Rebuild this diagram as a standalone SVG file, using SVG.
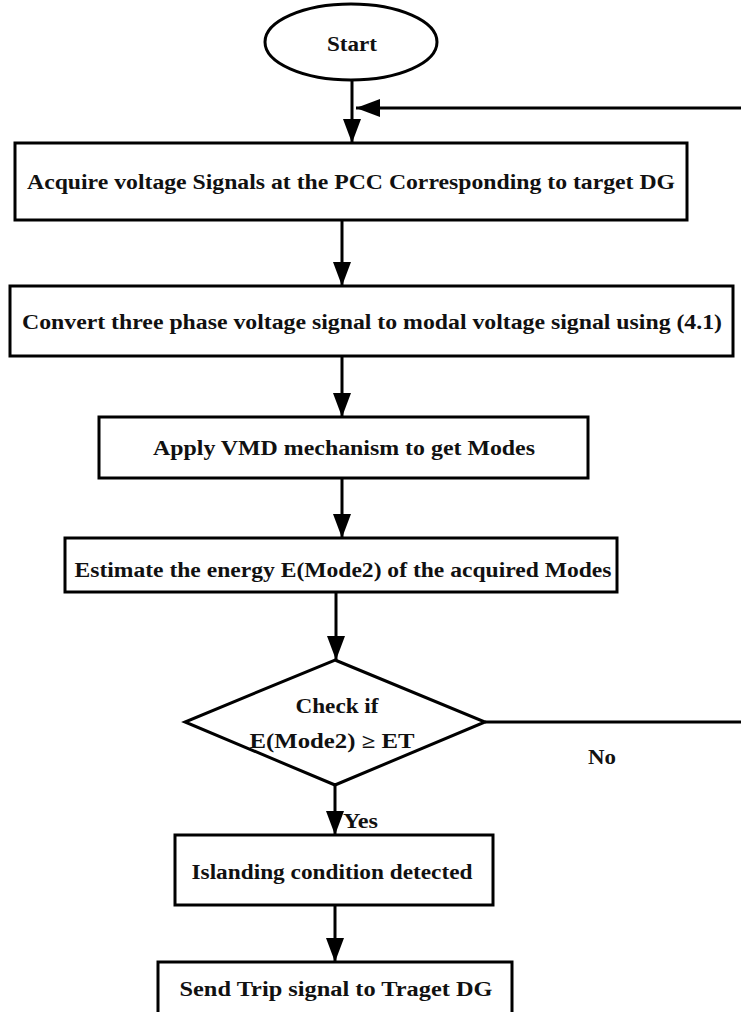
<svg xmlns="http://www.w3.org/2000/svg" width="741" height="1012" viewBox="0 0 741 1012">
<style>
.shape{fill:#fff;stroke:#000;stroke-width:3}
.conn{fill:none;stroke:#000;stroke-width:3}
text{font-family:"Liberation Serif","Times New Roman",serif;font-weight:bold;font-size:20px;fill:#111;text-anchor:middle}
.lbl{text-anchor:start}
</style>
<defs>
<marker id="ah" markerUnits="userSpaceOnUse" markerWidth="24" markerHeight="18" viewBox="0 0 24 18" refX="24" refY="9" orient="auto">
<path d="M0,0 L24,9 L0,18 z" fill="#000"/>
</marker>
</defs>
<rect width="741" height="1012" fill="#fff"/>
<g id="connectors">
<line class="conn" x1="352" y1="80" x2="352" y2="143" marker-end="url(#ah)"/>
<path class="conn" d="M485,722 H745 V108 H356" marker-end="url(#ah)"/>
<line class="conn" x1="342" y1="220" x2="342" y2="286" marker-end="url(#ah)"/>
<line class="conn" x1="342" y1="356" x2="342" y2="417" marker-end="url(#ah)"/>
<line class="conn" x1="342" y1="478" x2="342" y2="538" marker-end="url(#ah)"/>
<line class="conn" x1="336" y1="592" x2="336" y2="660" marker-end="url(#ah)"/>
<line class="conn" x1="335" y1="785" x2="335" y2="835" marker-end="url(#ah)"/>
<line class="conn" x1="335" y1="905" x2="335" y2="962" marker-end="url(#ah)"/>
<text class="lbl" x="588" y="764" textLength="28" lengthAdjust="spacingAndGlyphs">No</text>
<text class="lbl" x="343" y="828" textLength="35" lengthAdjust="spacingAndGlyphs">Yes</text>
</g>
<g id="start">
<ellipse class="shape" cx="351" cy="42" rx="86" ry="38"/>
<text x="352" y="51" textLength="50" lengthAdjust="spacingAndGlyphs">Start</text>
</g>
<g id="acquire">
<rect class="shape" x="15" y="143" width="672" height="77"/>
<text x="351" y="189" textLength="648" lengthAdjust="spacingAndGlyphs">Acquire voltage Signals at the PCC Corresponding to target DG</text>
</g>
<g id="convert">
<rect class="shape" x="10" y="286" width="723" height="70"/>
<text x="372" y="329" textLength="700" lengthAdjust="spacingAndGlyphs">Convert three phase voltage signal to modal voltage signal using (4.1)</text>
</g>
<g id="vmd">
<rect class="shape" x="99" y="417" width="489" height="61"/>
<text x="344" y="455" textLength="382" lengthAdjust="spacingAndGlyphs">Apply VMD mechanism to get Modes</text>
</g>
<g id="estimate">
<rect class="shape" x="65" y="538" width="552" height="54"/>
<text x="343" y="577" textLength="537" lengthAdjust="spacingAndGlyphs">Estimate the energy E(Mode2) of the acquired Modes</text>
</g>
<g id="check">
<polygon class="shape" points="335,660 485,722 335,785 185,722"/>
<text x="337" y="713" textLength="83" lengthAdjust="spacingAndGlyphs">Check if</text>
<text x="332" y="748" textLength="165" lengthAdjust="spacingAndGlyphs">E(Mode2) ≥ ET</text>
</g>
<g id="islanding">
<rect class="shape" x="175" y="835" width="318" height="70"/>
<text x="332" y="879" textLength="281" lengthAdjust="spacingAndGlyphs">Islanding condition detected</text>
</g>
<g id="trip">
<rect class="shape" x="158" y="962" width="354" height="60"/>
<text x="336" y="996" textLength="313" lengthAdjust="spacingAndGlyphs">Send Trip signal to Traget DG</text>
</g>
</svg>
